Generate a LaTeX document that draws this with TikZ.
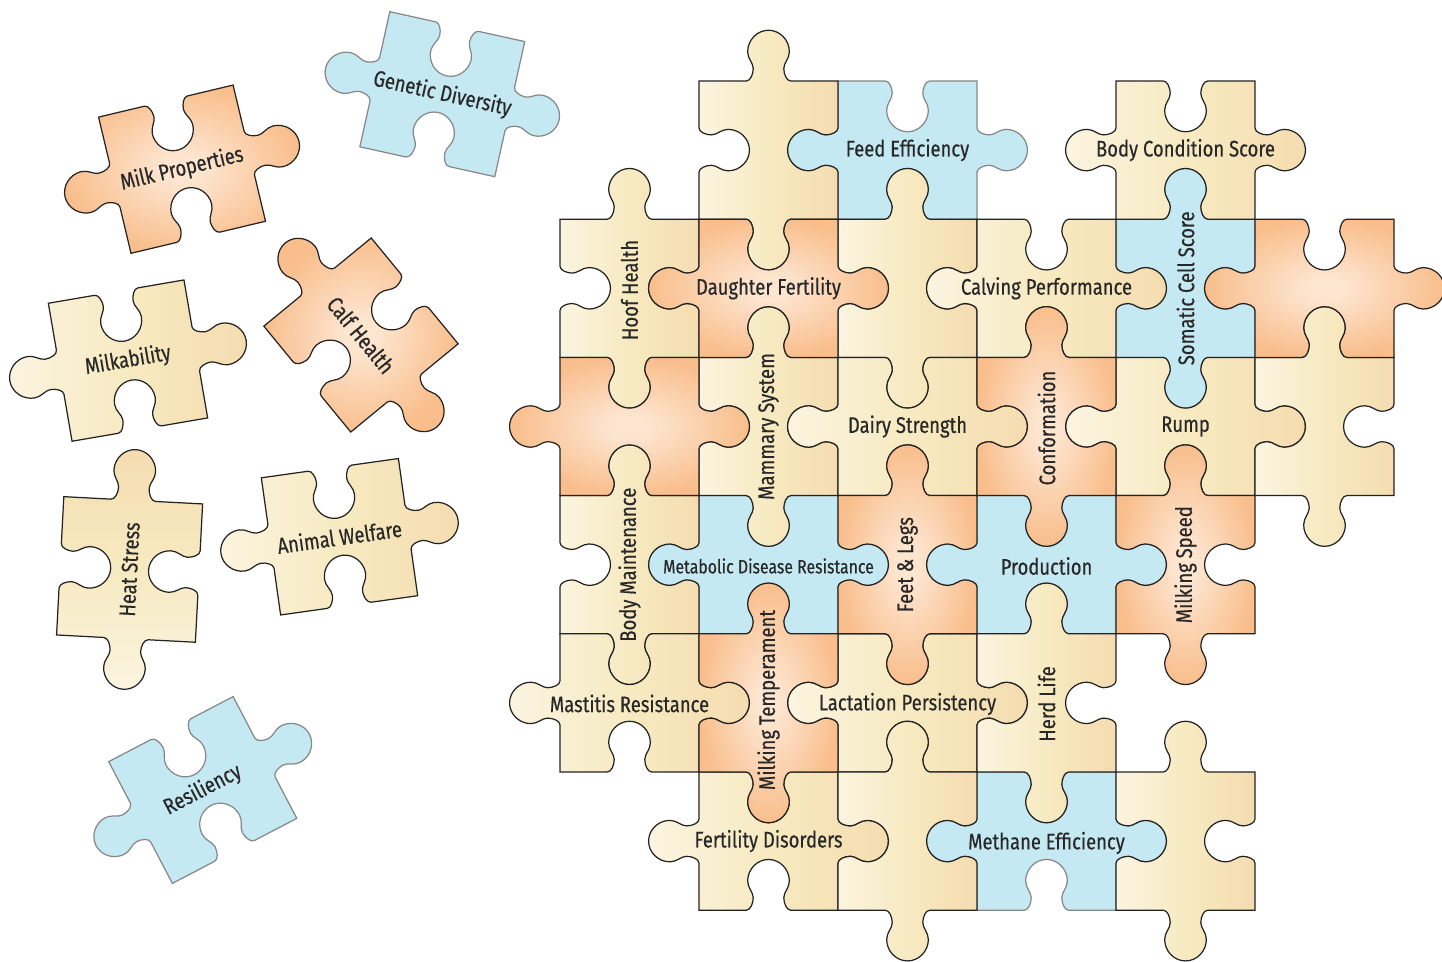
\documentclass[tikz,border=0pt]{standalone}
\usepackage{fontspec}
\setmainfont{Fira Sans}[FakeStretch=0.82, FakeBold=0.4]
\usepackage{xcolor}
\definecolor{pzblue}{RGB}{197,233,242}
\definecolor{pzbluedraw}{RGB}{135,135,135}
\definecolor{pzcream}{RGB}{251,244,224}
\definecolor{pzyellow}{RGB}{247,234,193}
\definecolor{pztan}{RGB}{245,220,176}
\definecolor{pzpeach}{RGB}{253,229,208}
\definecolor{pzorange}{RGB}{249,190,140}
\definecolor{pzline}{RGB}{35,35,35}
\definecolor{pztext}{RGB}{40,40,40}
\pgfdeclarehorizontalshading{pzlinear}{100bp}{color(0bp)=(pzcream); color(25bp)=(pzcream); color(50bp)=(pzyellow); color(75bp)=(pztan); color(100bp)=(pztan)}
\pgfdeclareradialshading{pzradial}{\pgfpoint{0bp}{0bp}}{color(0bp)=(pzpeach); color(4bp)=(pzpeach); color(25bp)=(pzorange); color(50bp)=(pzorange)}

% one side of a piece: start x, start y, step x, step y, knob (1 out, -1 in)
\newcommand\pzedge[5]{%
  -- ({(#1)+0.34*(#3)},{(#2)+0.34*(#4)})
  .. controls ({(#1)+0.37*(#3)},{(#2)+0.37*(#4)})
     and ({(#1)+0.39*(#3)+0.05*(#5)*(#4)},{(#2)+0.39*(#4)-0.05*(#5)*(#3)})
  .. ({(#1)+0.39*(#3)+0.09*(#5)*(#4)},{(#2)+0.39*(#4)-0.09*(#5)*(#3)})
  .. controls ({(#1)+0.39*(#3)+0.13*(#5)*(#4)},{(#2)+0.39*(#4)-0.13*(#5)*(#3)})
     and ({(#1)+0.35*(#3)+0.16*(#5)*(#4)},{(#2)+0.35*(#4)-0.16*(#5)*(#3)})
  .. ({(#1)+0.35*(#3)+0.21*(#5)*(#4)},{(#2)+0.35*(#4)-0.21*(#5)*(#3)})
  .. controls ({(#1)+0.35*(#3)+0.295*(#5)*(#4)},{(#2)+0.35*(#4)-0.295*(#5)*(#3)})
     and ({(#1)+0.418*(#3)+0.365*(#5)*(#4)},{(#2)+0.418*(#4)-0.365*(#5)*(#3)})
  .. ({(#1)+0.5*(#3)+0.365*(#5)*(#4)},{(#2)+0.5*(#4)-0.365*(#5)*(#3)})
  .. controls ({(#1)+0.582*(#3)+0.365*(#5)*(#4)},{(#2)+0.582*(#4)-0.365*(#5)*(#3)})
     and ({(#1)+0.65*(#3)+0.295*(#5)*(#4)},{(#2)+0.65*(#4)-0.295*(#5)*(#3)})
  .. ({(#1)+0.65*(#3)+0.21*(#5)*(#4)},{(#2)+0.65*(#4)-0.21*(#5)*(#3)})
  .. controls ({(#1)+0.65*(#3)+0.16*(#5)*(#4)},{(#2)+0.65*(#4)-0.16*(#5)*(#3)})
     and ({(#1)+0.61*(#3)+0.13*(#5)*(#4)},{(#2)+0.61*(#4)-0.13*(#5)*(#3)})
  .. ({(#1)+0.61*(#3)+0.09*(#5)*(#4)},{(#2)+0.61*(#4)-0.09*(#5)*(#3)})
  .. controls ({(#1)+0.61*(#3)+0.05*(#5)*(#4)},{(#2)+0.61*(#4)-0.05*(#5)*(#3)})
     and ({(#1)+0.63*(#3)},{(#2)+0.63*(#4)})
  .. ({(#1)+0.66*(#3)},{(#2)+0.66*(#4)})
  -- ({(#1)+(#3)},{(#2)+(#4)})}

% whole piece: left, top, width, height, top/bottom knobs, left/right knobs
\newcommand\pzshape[6]{%
  ({#1},{#2})
  \pzedge{#1}{#2}{#3}{0}{#5}
  \pzedge{#1+#3}{#2}{0}{#4}{#6}
  \pzedge{#1+#3}{#2+#4}{-#3}{0}{#5}
  \pzedge{#1}{#2+#4}{0}{-#4}{#6}
  -- cycle}

\begin{document}
\begin{tikzpicture}[x=0.02cm, y=-0.02cm,
    ypiece/.style={shade, shading=pzlinear, draw=pzline, line width=0.7pt},
    opiece/.style={shade, shading=pzradial, draw=pzline, line width=0.7pt},
    bpiece/.style={fill=pzblue, draw=pzbluedraw, line width=0.7pt},
    lbl/.style={text=pztext, inner sep=0pt, font=\fontsize{12.8}{15}\selectfont}]
  \useasboundingbox (0,0) rectangle (1442,962);

  % Board: blue pieces first, so the dark rims of the others lie on top
  \foreach \c/\r/\t in {2/0/-1, 4/1/1, 1/3/-1, 3/3/-1, 3/5/-1}
    \path[bpiece] \pzshape{560+139*\c}{81+138.2*\r}{139}{138.2}{\t}{-(\t)};
  \foreach \c/\r/\t in {1/0/1, 4/0/-1, 0/1/1, 2/1/1, 3/1/-1, 1/2/1, 2/2/-1, 4/2/-1,
      5/2/1, 0/3/1, 0/4/-1, 2/4/-1, 3/4/1, 1/5/-1, 2/5/1, 4/5/1}
    \path[ypiece] \pzshape{560+139*\c}{81+138.2*\r}{139}{138.2}{\t}{-(\t)};
  \foreach \c/\r/\t in {1/1/-1, 5/1/-1, 0/2/-1, 3/2/1, 2/3/1, 4/3/1, 1/4/1}
    \path[opiece] \pzshape{560+139*\c}{81+138.2*\r}{139}{138.2}{\t}{-(\t)};

  % Board labels
  \node[lbl] (feed) at (907.5,150.1) {Feed Efficiency};
  \node[lbl] (bcs) at (1185.5,150.1) {Body Condition Score};
  \node[lbl, rotate=90] (hoof) at (629.5,290) {Hoof Health};
  \node[lbl] (dfert) at (768.5,288.3) {Daughter Fertility};
  \node[lbl] (calving) at (1046.5,288.3) {Calving Performance};
  \node[lbl, rotate=90] (scs) at (1185.5,288.3) {Somatic Cell Score};
  \node[lbl, rotate=90] (mammary) at (768.5,426.5) {Mammary System};
  \node[lbl] (dairy) at (907.5,426.5) {Dairy Strength};
  \node[lbl, rotate=90] (conform) at (1046.5,428) {Conformation};
  \node[lbl] (rump) at (1185.5,426.5) {Rump};
  \node[lbl, rotate=90] (bodym) at (629.5,564.7) {Body Maintenance};
  \node[lbl, font=\fontsize{11}{13}\selectfont] (metab) at (768.5,566) {Metabolic Disease Resistance};
  \node[lbl, rotate=90] (feet) at (907.5,564.7) {Feet \& Legs};
  \node[lbl] (prod) at (1046.5,566) {Production};
  \node[lbl, rotate=90] (mspeed) at (1185.5,564.7) {Milking Speed};
  \node[lbl] (mastitis) at (629.5,703.5) {Mastitis Resistance};
  \node[lbl, rotate=90] (mtemp) at (768.5,700) {Milking Temperament};
  \node[lbl] (lact) at (907.5,704) {Lactation Persistency};
  \node[lbl, rotate=90] (herd) at (1046.5,704) {Herd Life};
  \node[lbl] (fdis) at (768.5,841.1) {Fertility Disorders};
  \node[lbl] (methane) at (1046.5,843) {Methane Efficiency};

  % Loose pieces
  \begin{scope}[shift={(442.3,94.2)}, rotate=-12.5]
    \path[bpiece] \pzshape{-69.1}{-69.2}{138.2}{138.4}{-1}{1};
    \node[lbl, rotate=-12.5] (gendiv) at (0,0) {Genetic Diversity};
  \end{scope}
  \begin{scope}[shift={(182,169.2)}, rotate=13.4]
    \path[opiece] \pzshape{-69.1}{-70}{138.3}{140}{-1}{1};
    \node[lbl, rotate=13.4] (milkprop) at (0,0) {Milk Properties};
  \end{scope}
  \begin{scope}[shift={(128,360.6)}, rotate=9.75]
    \path[ypiece] \pzshape{-68.8}{-70}{137.6}{140}{-1}{1};
    \node[lbl, rotate=9.75] (milkab) at (0,0) {Milkability};
  \end{scope}
  \begin{scope}[shift={(361,335)}, rotate=-50.6]
    \path[opiece] \pzshape{-68.5}{-69.5}{137}{139}{-1}{1};
    \node[lbl, rotate=-50.6] (calf) at (0,0) {Calf Health};
  \end{scope}
  \begin{scope}[shift={(129.6,569.4)}, rotate=-3]
    \path[ypiece, shading angle=90] \pzshape{-69.5}{-69.2}{139}{138.5}{1}{-1};
    \node[lbl, rotate=87] (heat) at (0,0) {Heat Stress};
  \end{scope}
  \begin{scope}[shift={(339.5,536.7)}, rotate=8]
    \path[ypiece] \pzshape{-69.2}{-69.2}{138.4}{138.5}{-1}{1};
    \node[lbl, rotate=8] (welfare) at (0,0) {Animal Welfare};
  \end{scope}
  \begin{scope}[shift={(202.75,790)}, rotate=27.6]
    \path[bpiece] \pzshape{-70.2}{-68.7}{140.4}{137.4}{-1}{1};
    \node[lbl, rotate=27.6] (resil) at (0,0) {Resiliency};
  \end{scope}
\end{tikzpicture}
\end{document}
